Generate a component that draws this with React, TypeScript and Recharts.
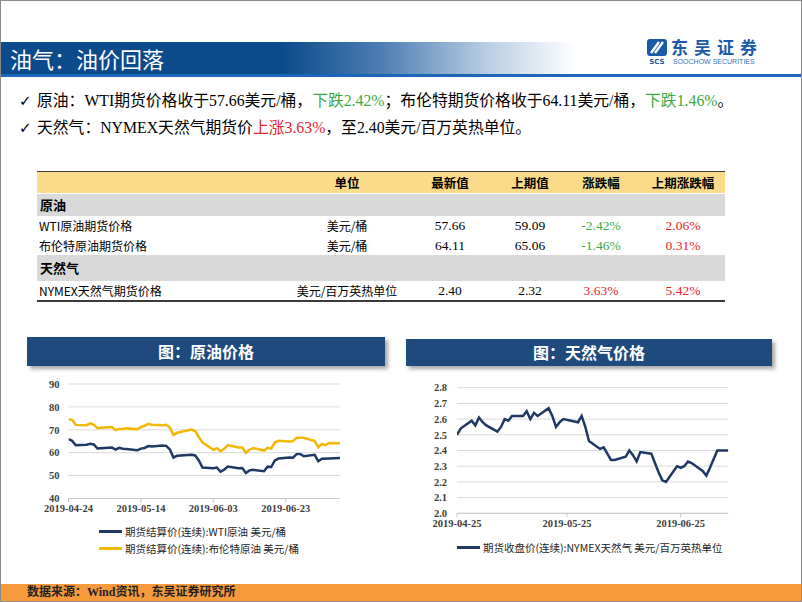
import React from 'react';
import { LineChart, Line, XAxis, YAxis, CartesianGrid, Legend } from 'recharts';

// ---------------- data ----------------
const oilDates = [
  '2019-04-24', '2019-04-25', '2019-04-26', '2019-04-29', '2019-04-30',
  '2019-05-01', '2019-05-02', '2019-05-03', '2019-05-06', '2019-05-07', '2019-05-08', '2019-05-09', '2019-05-10',
  '2019-05-13', '2019-05-14', '2019-05-15', '2019-05-16', '2019-05-17', '2019-05-20', '2019-05-21', '2019-05-22', '2019-05-23', '2019-05-24',
  '2019-05-28', '2019-05-29', '2019-05-30', '2019-05-31',
  '2019-06-03', '2019-06-04', '2019-06-05', '2019-06-06', '2019-06-07', '2019-06-10', '2019-06-11', '2019-06-12', '2019-06-13', '2019-06-14',
  '2019-06-17', '2019-06-18', '2019-06-19', '2019-06-20', '2019-06-21', '2019-06-24', '2019-06-25', '2019-06-26', '2019-06-27', '2019-06-28',
  '2019-07-01', '2019-07-02', '2019-07-03', '2019-07-04', '2019-07-05', '2019-07-08',
];
const wtiPrice: (number | null)[] = [
  65.89, 65.21, 63.3, 63.5, 63.91,
  63.6, 61.81, 61.94, 62.25, 61.4, 62.12, 61.7, 61.66,
  61.04, 61.78, 62.02, 62.87, 62.76, 63.1, 62.99, 61.42, 57.91, 58.63,
  59.14, 58.81, 56.59, 53.5,
  53.25, 53.48, 51.68, 52.59, 53.99, 53.26, 53.27, 51.14, 52.28, 52.51,
  51.93, 53.9, 53.76, 56.65, 57.43, 57.9, 57.83, 59.38, 59.43, 58.47,
  59.09, 56.25, 57.34, null, 57.51, 57.66,
];
const brentPrice = [
  74.57, 74.35, 72.15, 72.04, 72.8,
  72.18, 70.75, 70.85, 71.24, 69.88, 70.37, 70.39, 70.62,
  70.23, 71.24, 71.77, 72.62, 72.21, 71.97, 72.18, 70.99, 67.76, 68.69,
  70.11, 69.45, 66.87, 64.49,
  61.28, 61.97, 60.63, 61.67, 63.29, 62.29, 62.29, 59.97, 61.31, 62.01,
  60.94, 62.14, 61.82, 64.45, 65.2, 64.86, 65.05, 66.49, 66.55, 66.55,
  65.06, 62.4, 63.82, 63.3, 64.23, 64.11,
];
const oilTickDates = ['2019-04-24', '2019-05-14', '2019-06-03', '2019-06-23'];
const oilYTicks = [40, 50, 60, 70, 80, 90];
const oilSeriesNames = ['期货结算价(连续):WTI原油 美元/桶', '期货结算价(连续):布伦特原油 美元/桶'];

const gasDates = [
  '2019-04-25', '2019-04-26', '2019-04-29', '2019-04-30',
  '2019-05-01', '2019-05-02', '2019-05-03', '2019-05-06', '2019-05-07', '2019-05-08', '2019-05-09', '2019-05-10',
  '2019-05-13', '2019-05-14', '2019-05-15', '2019-05-16', '2019-05-17', '2019-05-20', '2019-05-21', '2019-05-22', '2019-05-23', '2019-05-24',
  '2019-05-28', '2019-05-29', '2019-05-30', '2019-05-31',
  '2019-06-03', '2019-06-04', '2019-06-05', '2019-06-06', '2019-06-07', '2019-06-10', '2019-06-11', '2019-06-12', '2019-06-13', '2019-06-14',
  '2019-06-17', '2019-06-18', '2019-06-19', '2019-06-20', '2019-06-21', '2019-06-24', '2019-06-25', '2019-06-26', '2019-06-27', '2019-06-28',
  '2019-07-01', '2019-07-02', '2019-07-03', '2019-07-05', '2019-07-08',
];
const gasPrice = [
  2.5, 2.54, 2.59, 2.56,
  2.61, 2.58, 2.56, 2.52, 2.55, 2.6, 2.59, 2.62,
  2.62, 2.65, 2.6, 2.64, 2.62, 2.67, 2.62, 2.55, 2.58, 2.6,
  2.58, 2.62, 2.55, 2.46,
  2.41, 2.42, 2.38, 2.34, 2.34, 2.36, 2.4, 2.37, 2.33, 2.39,
  2.38, 2.32, 2.26, 2.21, 2.2, 2.3, 2.29, 2.3, 2.33, 2.32,
  2.27, 2.24, 2.29, 2.4, 2.4,
];
const gasTickDates = ['2019-04-25', '2019-05-25', '2019-06-25'];
const gasYTicks = [2.0, 2.1, 2.2, 2.3, 2.4, 2.5, 2.6, 2.7, 2.8];
const gasSeriesName = '期货收盘价(连续):NYMEX天然气 美元/百万英热单位';

// table
const tableHeaders = ['单位', '最新值', '上期值', '涨跌幅', '上期涨跌幅'];
const tableNames = ['WTI原油期货价格', '布伦特原油期货价格', 'NYMEX天然气期货价格'];
const tableUnits = ['美元/桶', '美元/桶', '美元/百万英热单位'];
const tableLatest = ['57.66', '64.11', '2.40'];
const tablePrev = ['59.09', '65.06', '2.32'];
const tableChg = ['-2.42%', '-1.46%', '3.63%'];
const tablePrevChg = ['2.06%', '0.31%', '5.42%'];

// ---------------- helpers ----------------
const DAY = 86400000;
const toDay = (s: string) => Math.round(Date.parse(s + 'T00:00:00Z') / DAY);
const fmtDay = (d: number) => new Date(d * DAY).toISOString().slice(0, 10);

const oilData = oilDates.map((d, i) => ({ t: toDay(d), wti: wtiPrice[i], brent: brentPrice[i] }));
const gasData = gasDates.map((d, i) => ({ t: toDay(d), gas: gasPrice[i] }));

const NAVY = '#1F3864';
const GOLD = '#F2B700';
const GREEN = '#3BAA45';
const RED = '#E5232A';
const SERIF = '"Liberation Serif", "Times New Roman", "Noto Sans CJK SC", serif';
const CJK = '"Noto Sans CJK SC", sans-serif';

const tickStyle = { fontSize: 10.5, fontWeight: 700, fill: '#404040', fontFamily: SERIF };

const makeLegend = (padLeft: number) => (props: any) => (
  <div style={{ paddingLeft: padLeft }}>
    {(props.payload || []).map((p: any) => (
      <div key={p.value} style={{ height: 17, display: 'flex', alignItems: 'center', whiteSpace: 'nowrap' }}>
        <span style={{ display: 'inline-block', width: 23, height: 3, background: p.color }} />
        <span style={{ marginLeft: 3, fontSize: 10.5, color: '#262626', fontFamily: CJK }}>{p.value}</span>
      </div>
    ))}
  </div>
);

const abs = (l: number, t: number, extra: React.CSSProperties = {}): React.CSSProperties => ({
  position: 'absolute', left: l, top: t, ...extra,
});

const colCenters = [347, 450, 530, 601, 683];

function Cell({ cx, top, h, children, style }: any) {
  return (
    <div style={{ position: 'absolute', left: cx - 70, width: 140, top, height: h, lineHeight: h + 'px', textAlign: 'center', whiteSpace: 'nowrap', ...style }}>
      {children}
    </div>
  );
}

export default function App() {
  const rowTops = [216, 236, 281];
  const rowH = [20, 19, 19];
  return (
    <div style={{ position: 'absolute', left: 0, top: 0, width: 802, height: 602, background: '#fff', overflow: 'hidden', fontFamily: SERIF, color: '#000' }}>
      {/* header banner */}
      <div style={abs(0, 42, {
        width: 640, height: 32,
        background: 'linear-gradient(90deg, #0b4a8b 0%, #0b4a8b 44%, #4f7fb3 60%, #b9cde3 76%, #ffffff 90%)',
        clipPath: 'polygon(0 0, 605px 0, 622px 100%, 0 100%)',
      })} />
      <div style={abs(10, 43, { fontFamily: CJK, fontSize: 22, color: '#fff', lineHeight: '30px', whiteSpace: 'nowrap' })}>油气：油价回落</div>
      <div style={abs(0, 74, { width: 802, height: 3, background: '#1d65b6' })} />

      {/* logo */}
      <svg style={abs(647, 39)} width={20} height={26} viewBox="0 0 20 26">
        <rect x={0} y={0} width={20} height={17} rx={3} fill="#1b5aa8" />
        <path d="M4 14 L12 3 M8 14 L16 3" stroke="#fff" strokeWidth={2.4} />
        <text x={10} y={24.5} textAnchor="middle" fontSize={7} fontWeight={700} fill="#1b5aa8" fontFamily="DejaVu Sans">SCS</text>
      </svg>
      <div style={abs(671, 38, { fontFamily: CJK, fontSize: 17, fontWeight: 700, color: '#1b5aa8', letterSpacing: 6, lineHeight: '18px', whiteSpace: 'nowrap' })}>东吴证券</div>
      <div style={abs(673, 58, { fontFamily: '"Liberation Sans", sans-serif', fontSize: 7, color: '#3a6fb5', lineHeight: '8px', whiteSpace: 'nowrap' })}>SOOCHOW SECURITIES</div>

      {/* bullets */}
      <div style={abs(19, 91, { fontSize: 15.8, lineHeight: '20px', whiteSpace: 'nowrap' })}>
        <span style={{ fontFamily: '"DejaVu Sans"', fontSize: 15, display: 'inline-block', width: 18 }}>✓</span>
        原油：WTI期货价格收于57.66美元/桶，<span style={{ color: GREEN }}>下跌2.42%</span>；布伦特期货价格收于64.11美元/桶，<span style={{ color: GREEN }}>下跌1.46%</span>。
      </div>
      <div style={abs(19, 118, { fontSize: 15.8, lineHeight: '20px', whiteSpace: 'nowrap' })}>
        <span style={{ fontFamily: '"DejaVu Sans"', fontSize: 15, display: 'inline-block', width: 18 }}>✓</span>
        天然气：NYMEX天然气期货价<span style={{ color: RED }}>上涨3.63%</span>，至2.40美元/百万英热单位。
      </div>

      {/* table */}
      <div style={abs(37, 171, { width: 688, height: 1.5, background: '#3a3a3a' })} />
      <div style={abs(37, 172, { width: 688, height: 21, background: '#FADB8A' })} />
      {tableHeaders.map((h, i) => (
        <Cell key={h} cx={colCenters[i]} top={172} h={21} style={{ fontFamily: CJK, fontWeight: 700, fontSize: 12.5 }}>{h}</Cell>
      ))}
      <div style={abs(37, 194, { width: 688, height: 22, background: '#D9D9D9' })} />
      <div style={abs(40, 194, { fontFamily: CJK, fontWeight: 700, fontSize: 13, lineHeight: '22px' })}>原油</div>
      <div style={abs(37, 255, { width: 688, height: 26, background: '#D9D9D9' })} />
      <div style={abs(40, 255, { fontFamily: CJK, fontWeight: 700, fontSize: 13, lineHeight: '26px' })}>天然气</div>
      {tableNames.map((n, r) => (
        <React.Fragment key={n}>
          <div style={abs(39, rowTops[r], { fontFamily: CJK, fontSize: 12, lineHeight: rowH[r] + 'px', whiteSpace: 'nowrap' })}>{n}</div>
          <Cell cx={colCenters[0]} top={rowTops[r]} h={rowH[r]} style={{ fontFamily: CJK, fontSize: 12 }}>{tableUnits[r]}</Cell>
          <Cell cx={colCenters[1]} top={rowTops[r]} h={rowH[r]} style={{ fontSize: 13.5 }}>{tableLatest[r]}</Cell>
          <Cell cx={colCenters[2]} top={rowTops[r]} h={rowH[r]} style={{ fontSize: 13.5 }}>{tablePrev[r]}</Cell>
          <Cell cx={colCenters[3]} top={rowTops[r]} h={rowH[r]} style={{ fontSize: 13.5, color: tableChg[r].startsWith('-') ? GREEN : RED }}>{tableChg[r]}</Cell>
          <Cell cx={colCenters[4]} top={rowTops[r]} h={rowH[r]} style={{ fontSize: 13.5, color: tablePrevChg[r].startsWith('-') ? GREEN : RED }}>{tablePrevChg[r]}</Cell>
        </React.Fragment>
      ))}
      <div style={abs(37, 300, { width: 688, height: 1.5, background: '#3a3a3a' })} />

      {/* chart titles */}
      <div style={abs(27, 337, { width: 358, height: 29, background: '#1F4A7E', boxShadow: '3px 3px 4px rgba(0,0,0,0.35)', color: '#fff', fontFamily: CJK, fontWeight: 700, fontSize: 16, lineHeight: '29px', textAlign: 'center' })}>图：原油价格</div>
      <div style={abs(406, 339, { width: 366, height: 27, background: '#1F4A7E', boxShadow: '3px 3px 4px rgba(0,0,0,0.35)', color: '#fff', fontFamily: CJK, fontWeight: 700, fontSize: 16, lineHeight: '27px', textAlign: 'center' })}>图：天然气价格</div>

      {/* oil chart */}
      <div style={abs(10, 374)}>
        <LineChart width={340} height={190} data={oilData} margin={{ top: 10, right: 10, bottom: 7.5, left: 18.5 }}>
          <CartesianGrid vertical={false} stroke="#d9d9d9" />
          <XAxis dataKey="t" type="number" domain={[toDay('2019-04-24'), toDay('2019-07-08')]}
            ticks={oilTickDates.map(toDay)} tickFormatter={fmtDay} interval={0} height={24}
            tick={tickStyle} tickSize={4} tickMargin={2} stroke="#c8c8c8" allowDataOverflow />
          <YAxis domain={[40, 90]} ticks={oilYTicks} interval={0} width={40} axisLine={false} tickLine={false}
            tickSize={0} tickMargin={9} tick={tickStyle} />
          <Legend verticalAlign="bottom" align="left" layout="horizontal" content={makeLegend(89)} wrapperStyle={{ left: 0, width: 340 }} />
          <Line type="linear" dataKey="wti" name={oilSeriesNames[0]} stroke={NAVY} strokeWidth={2.5} dot={false} connectNulls isAnimationActive={false} />
          <Line type="linear" dataKey="brent" name={oilSeriesNames[1]} stroke={GOLD} strokeWidth={2.5} dot={false} connectNulls isAnimationActive={false} />
        </LineChart>
      </div>

      {/* gas chart */}
      <div style={abs(400, 378)}>
        <LineChart width={340} height={182} data={gasData} margin={{ top: 9.7, right: 11.7, bottom: 4.5, left: 17 }}>
          <CartesianGrid vertical={false} stroke="#d9d9d9" />
          <XAxis dataKey="t" type="number" domain={[toDay('2019-04-25'), toDay('2019-07-08')]}
            ticks={gasTickDates.map(toDay)} tickFormatter={fmtDay} interval={0} height={25.2}
            tick={tickStyle} tickSize={4} tickMargin={2} stroke="#c8c8c8" allowDataOverflow />
          <YAxis domain={[2.0, 2.8]} ticks={gasYTicks} interval={0} width={40} axisLine={false} tickLine={false}
            tickSize={0} tickMargin={10} tick={tickStyle} tickFormatter={(v: number) => v.toFixed(1)} />
          <Legend verticalAlign="bottom" align="left" layout="horizontal" content={makeLegend(57)} wrapperStyle={{ left: 0, width: 340 }} />
          <Line type="linear" dataKey="gas" name={gasSeriesName} stroke={NAVY} strokeWidth={2.5} dot={false} isAnimationActive={false} />
        </LineChart>
      </div>

      {/* footer */}
      <div style={abs(0, 584, { width: 802, height: 18, background: '#F79A3C' })} />
      <div style={abs(27, 584, { fontSize: 12, fontWeight: 700, lineHeight: '17px', color: '#222', whiteSpace: 'nowrap' })}>数据来源：Wind资讯，东吴证券研究所</div>

      {/* frame */}
      <div style={abs(0, 0, { width: 802, height: 602, boxSizing: 'border-box', border: '1px solid #8a8a8a', pointerEvents: 'none' })} />
    </div>
  );
}
